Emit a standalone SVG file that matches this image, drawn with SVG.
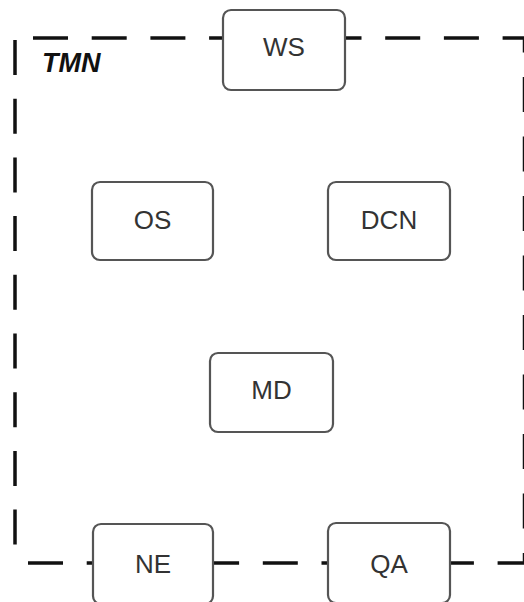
<svg xmlns="http://www.w3.org/2000/svg" width="524" height="602" viewBox="0 0 524 602">
<style>
.dash{stroke:#111;stroke-width:3.5;fill:none}
.box{fill:#fff;stroke:#555;stroke-width:2.2}
.lbl{font-family:"Liberation Sans",Arial,sans-serif;font-size:26px;fill:#333;text-anchor:middle}
.tmn{font-family:"Liberation Sans",Arial,sans-serif;font-size:27px;font-weight:bold;font-style:italic;fill:#111}
</style>
<rect width="524" height="602" fill="#fff"/>
<g id="connectors">
<line class="dash" x1="15" y1="38" x2="524.5" y2="38" stroke-dasharray="35 23.7" stroke-dashoffset="40.7"/>
<line class="dash" x1="524.5" y1="38" x2="524.5" y2="563" stroke-dasharray="35 24.5" stroke-dashoffset="20.5"/>
<line class="dash" x1="15" y1="563" x2="524.5" y2="563" stroke-dasharray="35 23.7" stroke-dashoffset="45.7"/>
<line class="dash" x1="15" y1="38" x2="15" y2="563" stroke-dasharray="35 23.7" stroke-dashoffset="56.7"/>
</g>
<g id="tmn-label"><text class="tmn" x="42" y="72">TMN</text></g>
<g id="node-ws"><rect class="box" x="223" y="10" width="122" height="80" rx="8"/><text class="lbl" x="284" y="56">WS</text></g>
<g id="node-os"><rect class="box" x="92" y="182" width="121" height="78" rx="8"/><text class="lbl" x="152.5" y="229">OS</text></g>
<g id="node-dcn"><rect class="box" x="328" y="182" width="122" height="78" rx="8"/><text class="lbl" x="389" y="229">DCN</text></g>
<g id="node-md"><rect class="box" x="210" y="353" width="123" height="79" rx="8"/><text class="lbl" x="271.5" y="399">MD</text></g>
<g id="node-ne"><rect class="box" x="93" y="524" width="120" height="80" rx="8"/><text class="lbl" x="153" y="573">NE</text></g>
<g id="node-qa"><rect class="box" x="328" y="523" width="122" height="80" rx="8"/><text class="lbl" x="389" y="573">QA</text></g>
</svg>
